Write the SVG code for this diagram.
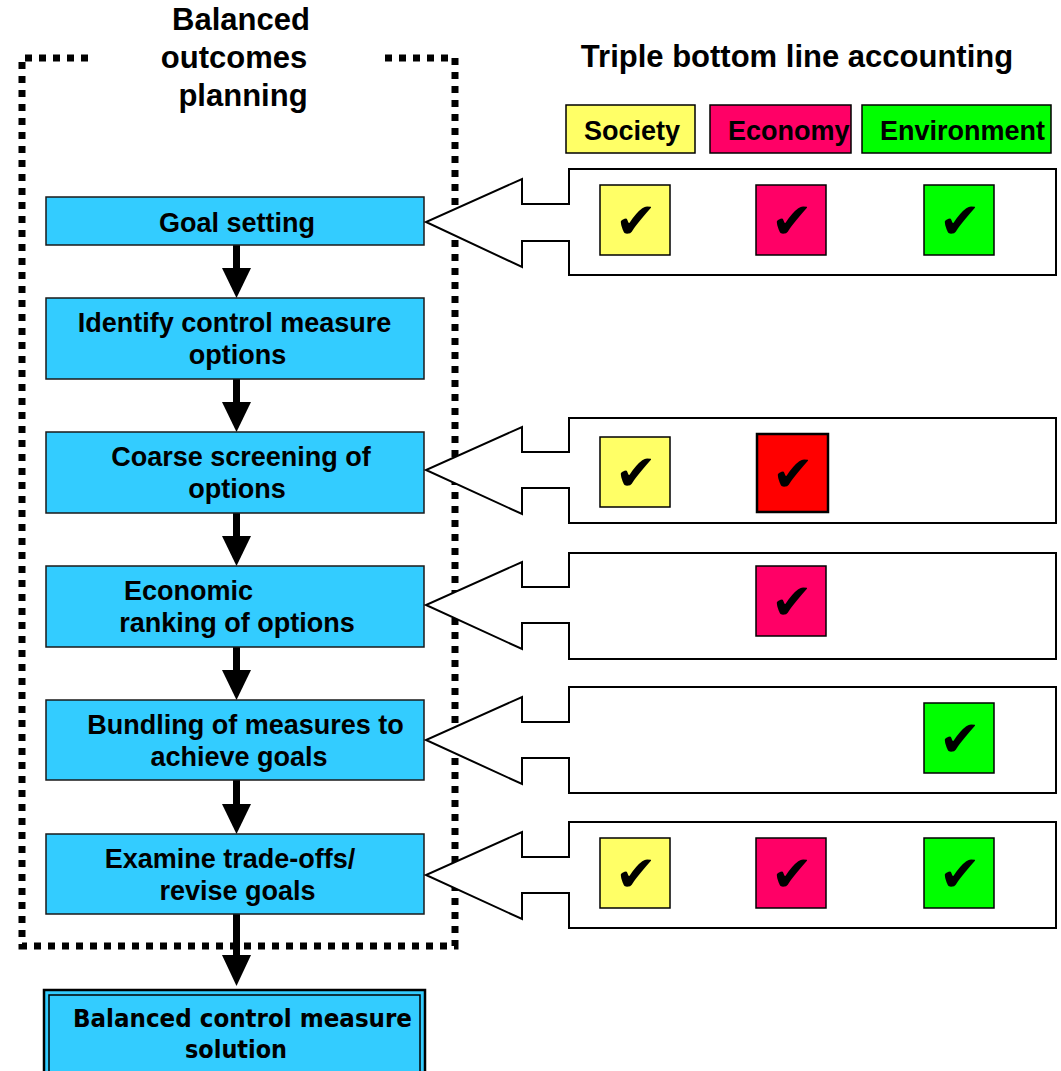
<svg xmlns="http://www.w3.org/2000/svg" width="1061" height="1071" viewBox="0 0 1061 1071">
<style>
.title{font-family:"Liberation Sans",Arial,sans-serif;font-weight:bold;font-size:31px;fill:#000}
.lbl{font-family:"Liberation Sans",Arial,sans-serif;font-weight:bold;font-size:27px;fill:#000}
.step{fill:#33CCFF;stroke:#1a1a1a;stroke-width:1.5}
.ck{font-family:"DejaVu Sans",sans-serif;font-size:50px;fill:#000;text-anchor:middle}
.cell{stroke:#000;stroke-width:1.5}
.hollow{fill:#fff;stroke:#000;stroke-width:2;stroke-linejoin:miter}
.down{fill:#000}
.final{font-family:"Comic Sans MS","DejaVu Sans",sans-serif;font-weight:bold;font-size:24px;fill:#000}
</style>
<rect width="1061" height="1071" fill="#fff"/>

<!-- dotted frame -->
<path d="M88,58 L22,58 L22,946 L455,946 L455,58 L385,58" fill="none" stroke="#000" stroke-width="7" stroke-dasharray="7 7"/>

<!-- titles -->
<g id="title-left">
<text class="title" x="241" y="30" text-anchor="middle">Balanced</text>
<text class="title" x="234" y="68" text-anchor="middle">outcomes</text>
<text class="title" x="243" y="106" text-anchor="middle">planning</text>
</g>
<text id="title-right" class="title" x="797" y="67" text-anchor="middle">Triple bottom line accounting</text>

<!-- legend -->
<g id="legend-society"><rect class="cell" x="566" y="105" width="129" height="48" fill="#FFFF66"/><text class="lbl" x="632" y="140" text-anchor="middle">Society</text></g>
<g id="legend-economy"><rect class="cell" x="710" y="105" width="141" height="48" fill="#FF0066"/><text class="lbl" x="728" y="140">Economy</text></g>
<g id="legend-environment"><rect class="cell" x="862" y="105" width="189" height="48" fill="#00FF00"/><text class="lbl" x="880" y="140">Environment</text></g>

<!-- connectors -->
<g id="connectors">
<rect class="down" x="233" y="245" width="7" height="24"/><path class="down" d="M222,268 L251,268 L236.5,298 Z"/>
<rect class="down" x="233" y="379" width="7" height="24"/><path class="down" d="M222,402 L251,402 L236.5,432 Z"/>
<rect class="down" x="233" y="513" width="7" height="24"/><path class="down" d="M222,536 L251,536 L236.5,566 Z"/>
<rect class="down" x="233" y="647" width="7" height="24"/><path class="down" d="M222,670 L251,670 L236.5,700 Z"/>
<rect class="down" x="233" y="780" width="7" height="25"/><path class="down" d="M222,804 L251,804 L236.5,834 Z"/>
<rect class="down" x="233" y="914" width="7" height="42"/><path class="down" d="M222,955 L251,955 L236.5,986 Z"/>
</g>

<!-- flow steps -->
<g id="step-goal"><rect class="step" x="46" y="197" width="378" height="48"/><text class="lbl" x="237" y="232" text-anchor="middle">Goal setting</text></g>
<g id="step-identify"><rect class="step" x="46" y="298" width="378" height="81"/><text class="lbl" x="234.5" y="332" text-anchor="middle">Identify control measure</text><text class="lbl" x="237.5" y="364" text-anchor="middle">options</text></g>
<g id="step-coarse"><rect class="step" x="46" y="432" width="378" height="81"/><text class="lbl" x="241" y="466" text-anchor="middle">Coarse screening of</text><text class="lbl" x="237" y="498" text-anchor="middle">options</text></g>
<g id="step-economic"><rect class="step" x="46" y="566" width="378" height="81"/><text class="lbl" x="124" y="600">Economic</text><text class="lbl" x="237" y="632" text-anchor="middle">ranking of options</text></g>
<g id="step-bundling"><rect class="step" x="46" y="700" width="378" height="80"/><text class="lbl" x="245.5" y="734" text-anchor="middle">Bundling of measures to</text><text class="lbl" x="239" y="766" text-anchor="middle">achieve goals</text></g>
<g id="step-examine"><rect class="step" x="46" y="834" width="378" height="80"/><text class="lbl" x="230" y="868" text-anchor="middle">Examine trade-offs/</text><text class="lbl" x="237.5" y="900" text-anchor="middle">revise goals</text></g>
<g id="step-final">
<rect x="44" y="990" width="381" height="90" fill="#33CCFF" stroke="#000" stroke-width="2.5"/>
<rect x="49" y="995" width="371" height="80" fill="none" stroke="#000" stroke-width="1.5"/>
<text class="final" x="73" y="1027" textLength="339" lengthAdjust="spacingAndGlyphs">Balanced control measure</text>
<text class="final" x="236" y="1058" text-anchor="middle" textLength="102" lengthAdjust="spacingAndGlyphs">solution</text>
</g>

<!-- accounting rows -->
<g id="row-goal">
<path class="hollow" d="M569,204 L569,169 L1056,169 L1056,275 L569,275 L569,241 L522,241 L522,267 L426,222 L522,179 L522,204 Z"/>
<rect class="cell" x="600" y="185" width="70" height="70" fill="#FFFF66"/><text class="ck" x="636" y="238">✔</text>
<rect class="cell" x="756" y="185" width="70" height="70" fill="#FF0066"/><text class="ck" x="792" y="238">✔</text>
<rect class="cell" x="924" y="185" width="70" height="70" fill="#00FF00"/><text class="ck" x="960" y="238">✔</text>
</g>
<g id="row-coarse">
<path class="hollow" d="M569,452 L569,418 L1056,418 L1056,523 L569,523 L569,488 L522,488 L522,514 L426,470 L522,427 L522,452 Z"/>
<rect class="cell" x="600" y="437" width="70" height="70" fill="#FFFF66"/><text class="ck" x="636" y="490">✔</text>
<rect x="757" y="434" width="71" height="78" fill="#FF0000" stroke="#000" stroke-width="2.5"/><text class="ck" x="793" y="491">✔</text>
</g>
<g id="row-economic">
<path class="hollow" d="M569,587 L569,553 L1056,553 L1056,659 L569,659 L569,623 L522,623 L522,649 L426,605 L522,562 L522,587 Z"/>
<rect class="cell" x="756" y="566" width="70" height="70" fill="#FF0066"/><text class="ck" x="792" y="619">✔</text>
</g>
<g id="row-bundling">
<path class="hollow" d="M569,722 L569,687 L1056,687 L1056,793 L569,793 L569,758 L522,758 L522,784 L426,740 L522,697 L522,722 Z"/>
<rect class="cell" x="924" y="703" width="70" height="70" fill="#00FF00"/><text class="ck" x="960" y="756">✔</text>
</g>
<g id="row-examine">
<path class="hollow" d="M569,857 L569,822 L1056,822 L1056,928 L569,928 L569,893 L522,893 L522,919 L426,875 L522,832 L522,857 Z"/>
<rect class="cell" x="600" y="838" width="70" height="70" fill="#FFFF66"/><text class="ck" x="636" y="891">✔</text>
<rect class="cell" x="756" y="838" width="70" height="70" fill="#FF0066"/><text class="ck" x="792" y="891">✔</text>
<rect class="cell" x="924" y="838" width="70" height="70" fill="#00FF00"/><text class="ck" x="960" y="891">✔</text>
</g>
</svg>
